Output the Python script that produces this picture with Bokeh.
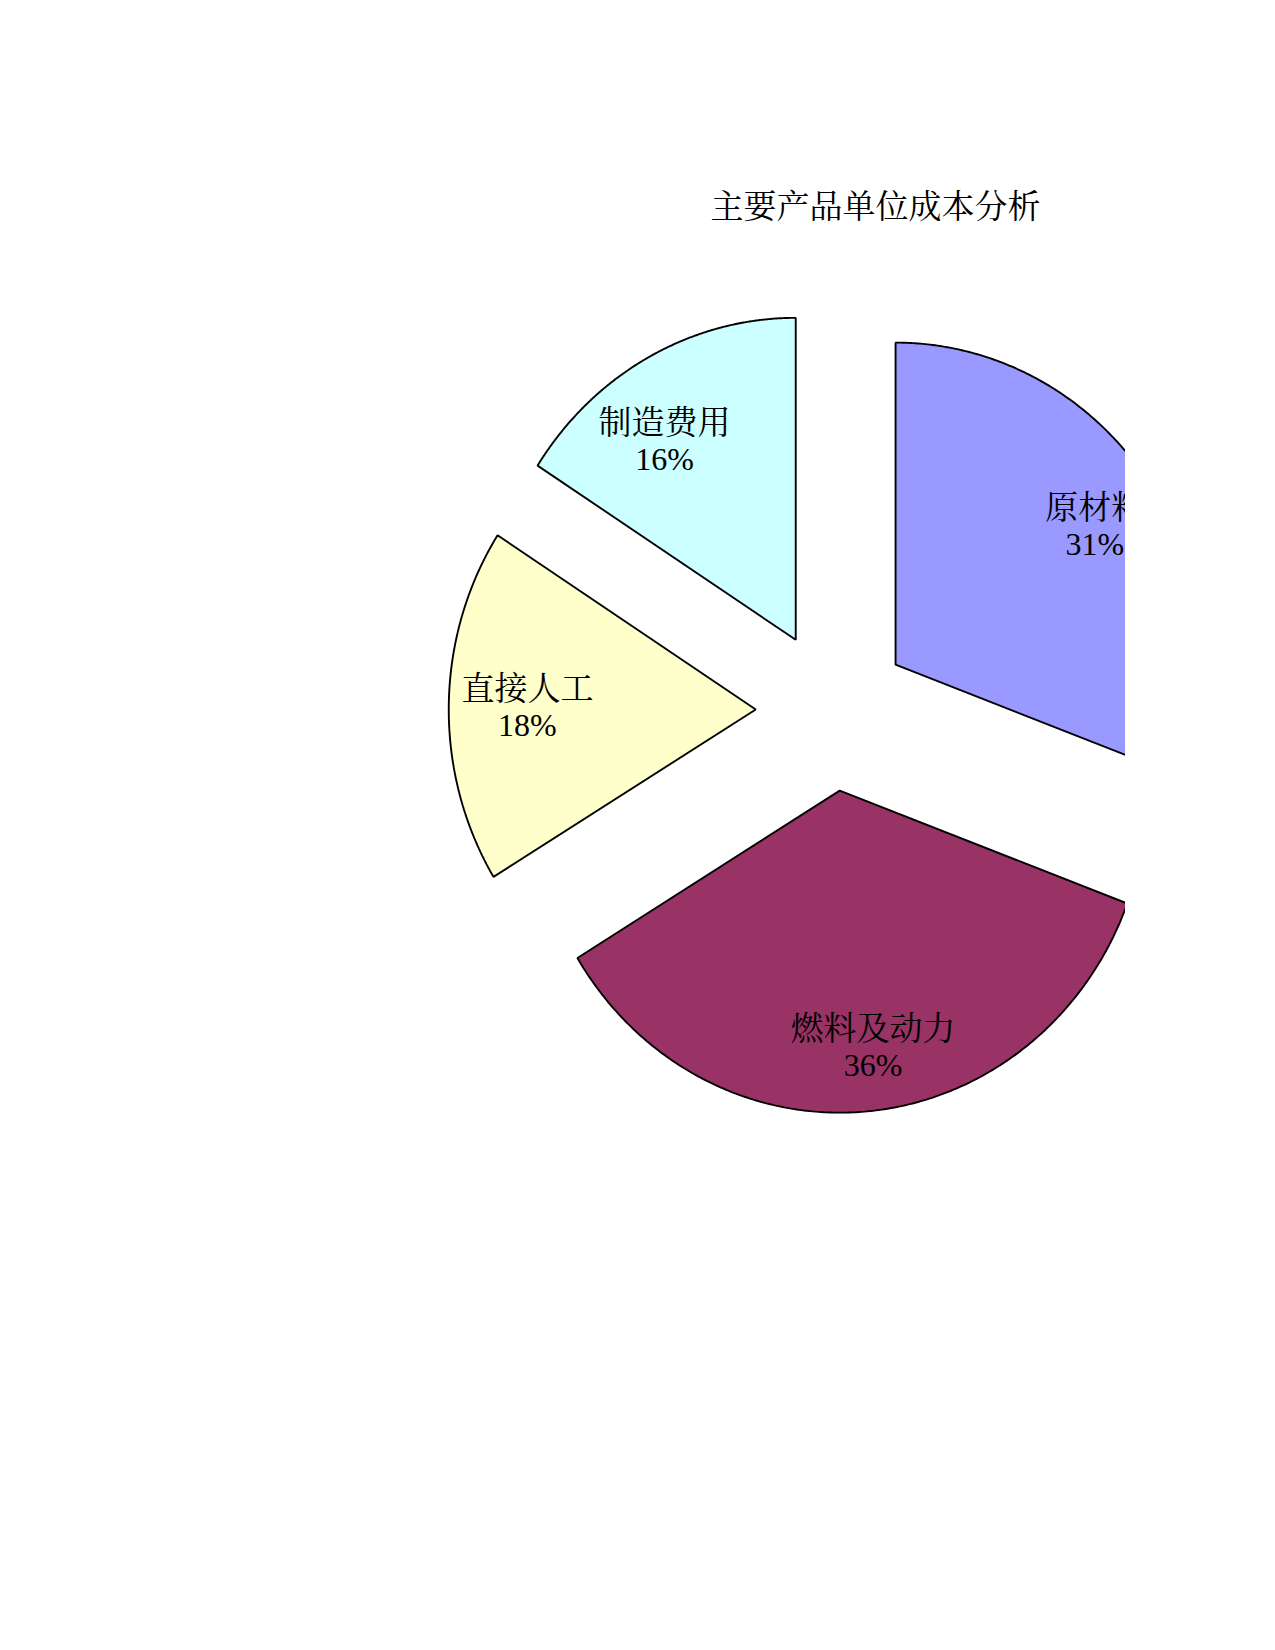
import numpy as np
from bokeh.plotting import figure
from bokeh.models import ColumnDataSource, Label, Range1d
from bokeh.core.properties import value
from bokeh.embed import file_html
from bokeh.resources import INLINE

# ---- data ----
title_text = "主要产品单位成本分析"
categories = ["原材料", "燃料及动力", "直接人工", "制造费用"]
shares = [30.7, 35.6, 17.8, 15.9]          # percent of unit cost
colors = ["#9999FF", "#993366", "#FFFFCC", "#CCFFFF"]

# ---- layout / style ----
EXPLODE = 0.25       # slice offset, fraction of radius
LABEL_R = 1.02       # label distance from pie centre, fraction of radius
LABEL_NUDGE_X = [5, 11, 8, -18]     # px, per slice label fine placement
LABEL_NUDGE_Y = [3, 10, 1, 19]
FONT = "Liberation Serif, Noto Serif CJK SC, Noto Sans CJK SC"
W, H = 1125, 1600
PX_X, PX_Y = 307.0, 322.0     # pixels per radius unit (x, y)
CX, CY = 832.0, 710.0         # pie centre on canvas (px from left / top)

x0 = -CX / PX_X
x1 = x0 + W / PX_X
y1 = CY / PX_Y
y0 = y1 - H / PX_Y

p = figure(width=W, height=H, x_range=Range1d(x0, x1), y_range=Range1d(y0, y1),
           x_axis_type=None, y_axis_type=None, output_backend="svg",
           toolbar_location=None, min_border=0, outline_line_color=None)
p.grid.visible = False
p.background_fill_color = "white"
p.border_fill_color = "white"

total = float(sum(shares))
fr = np.array(shares) / total
ends = np.pi / 2 - 2 * np.pi * np.cumsum(fr)
starts = ends + 2 * np.pi * fr

xs, ys, lx, ly, pct = [], [], [], [], []
for s, e, v in zip(starts, ends, shares):
    b = (s + e) / 2
    vx, vy = EXPLODE * np.cos(b), EXPLODE * np.sin(b)
    t = np.linspace(s, e, 240)
    xs.append(np.concatenate([[vx], vx + np.cos(t)]).tolist())
    ys.append(np.concatenate([[vy], vy + np.sin(t)]).tolist())
    lx.append(LABEL_R * np.cos(b))
    ly.append(LABEL_R * np.sin(b))
    pct.append(f"{round(v / total * 100)}%")

src = ColumnDataSource(dict(
    xs=xs, ys=ys, color=colors, lx=lx, ly=ly, name=categories, pct=pct,
    ox=LABEL_NUDGE_X,
    oy1=[n - 18 for n in LABEL_NUDGE_Y],
    oy2=[n + 18 for n in LABEL_NUDGE_Y]))
p.patches("xs", "ys", source=src, fill_color="color", line_color="black",
          line_width=1.9)
p.text(x="lx", y="ly", text="name", source=src, text_font=value(FONT),
       text_font_size="33px", text_color="black", text_align="center",
       text_baseline="middle", x_offset="ox", y_offset="oy1")
p.text(x="lx", y="ly", text="pct", source=src, text_font=value(FONT),
       text_font_size="32px", text_color="black", text_align="center",
       text_baseline="middle", x_offset="ox", y_offset="oy2")

p.add_layout(Label(x=875, y=H - 206, x_units="screen", y_units="screen",
                   text=title_text, text_font=FONT, text_font_size="33px",
                   text_color="black", text_align="center",
                   text_baseline="middle"))

open("out.html", "w").write(file_html(p, INLINE))
